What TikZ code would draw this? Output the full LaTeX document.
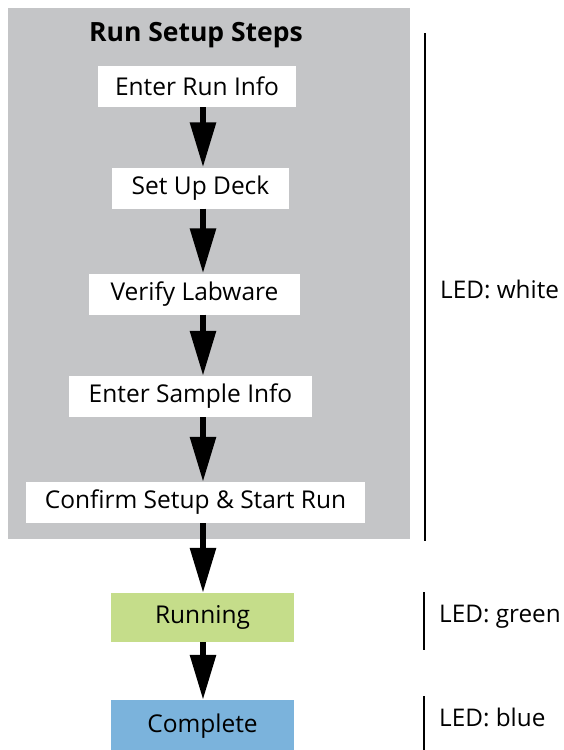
\documentclass[tikz,border=0pt]{standalone}
\usepackage{fontspec}
\setmainfont{Open Sans}
\usetikzlibrary{arrows.meta}
\definecolor{panelgray}{HTML}{C4C5C7}
\definecolor{rungreen}{HTML}{C5DD8A}
\definecolor{doneblue}{HTML}{7BB3DC}
\tikzset{
  stepbox/.style={fill=white, inner sep=0pt, minimum height=41pt, font=\fontsize{24.5}{28}\selectfont},
  flowarrow/.style={line width=6pt, -{Triangle[width=25pt,length=45pt]}},
  ledline/.style={line width=2pt},
  ledtext/.style={anchor=west, inner sep=0pt, font=\fontsize{24.3}{28}\selectfont}
}
\begin{document}
\begin{tikzpicture}[x=1pt,y=-1pt]
\useasboundingbox (0,0) rectangle (564,750);
\fill[panelgray] (8,8) rectangle (410,539);
\node[font=\bfseries\fontsize{26.5}{30}\selectfont] (title) at (196,35) {Run Setup Steps};
\node[stepbox, minimum width=198pt] (b1) at (197,86.5) {Enter Run Info};
\node[stepbox, minimum width=177pt] (b2) at (200.5,188) {Set Up Deck};
\node[stepbox, minimum width=211pt] (b3) at (194.5,294) {Verify Labware};
\node[stepbox, minimum width=243pt] (b4) at (190.5,396.5) {Enter Sample Info};
\node[stepbox, minimum width=339pt] (b5) at (195.5,502.5) {Confirm Setup \& Start Run};
\node[stepbox, fill=rungreen, minimum width=183pt, minimum height=49pt] (run) at (202.5,617.5) {Running};
\node[stepbox, fill=doneblue, minimum width=183pt, minimum height=52pt] (done) at (202.5,726) {Complete};
\coordinate (ax) at (203,0);
\draw[flowarrow] (b1.south -| ax) -- (b2.north -| ax);
\draw[flowarrow] (b2.south -| ax) -- (b3.north -| ax);
\draw[flowarrow] (b3.south -| ax) -- (b4.north -| ax);
\draw[flowarrow] (b4.south -| ax) -- (b5.north -| ax);
\draw[flowarrow] (b5.south -| ax) -- (run.north -| ax);
\draw[flowarrow] (run.south -| ax) -- (done.north -| ax);
\coordinate (w1) at (425,33);
\coordinate (w2) at (425,541);
\coordinate (g1) at (424,592);
\coordinate (g2) at (424,650);
\coordinate (u1) at (424,696);
\coordinate (u2) at (424,750);
\draw[ledline] (w1) -- (w2);
\draw[ledline] (g1) -- (g2);
\draw[ledline] (u1) -- (u2);
\node[ledtext] (lw) at (440,289) {LED: white};
\node[ledtext] (lg) at (439,617) {LED: green};
\node[ledtext] (lb) at (439,717) {LED: blue};
\end{tikzpicture}
\end{document}
